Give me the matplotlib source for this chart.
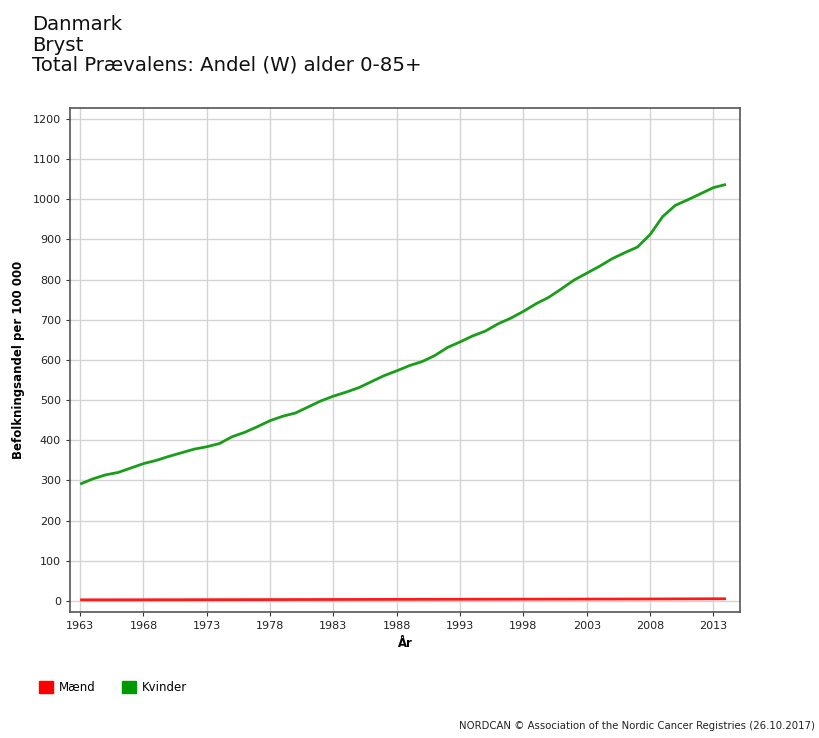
import matplotlib
matplotlib.use('Agg')
import matplotlib.pyplot as plt
from matplotlib.patches import Patch

# Brystkræft, total prævalens per 100 000, Danmark
years = list(range(1963, 2015))
kvinder = [291, 304, 314, 320, 331, 342, 350, 360, 369, 378,
           384, 392, 409, 420, 434, 449, 460, 468, 483, 498,
           510, 520, 531, 546, 561, 573, 586, 596, 611, 631,
           645, 660, 672, 690, 704, 721, 740, 756, 777, 799,
           816, 833, 852, 867, 881, 912, 957, 985, 999, 1014,
           1029, 1037]
maend = [3.0, 3.0, 3.0, 3.1, 3.1, 3.1, 3.2, 3.2, 3.2, 3.3,
         3.3, 3.4, 3.4, 3.5, 3.5, 3.6, 3.6, 3.7, 3.7, 3.8,
         3.8, 3.9, 3.9, 4.0, 4.0, 4.1, 4.1, 4.2, 4.2, 4.3,
         4.3, 4.4, 4.4, 4.5, 4.5, 4.6, 4.6, 4.7, 4.7, 4.8,
         4.8, 4.9, 4.9, 5.0, 5.0, 5.1, 5.2, 5.3, 5.4, 5.5,
         5.6, 5.7]
xticks = list(range(1963, 2014, 5))
yticks = list(range(0, 1201, 100))
serie_navne = ['Mænd', 'Kvinder']
serie_farver = ['#ff0000', '#009900']

plt.rcParams['font.family'] = ['DejaVu Sans']

fig = plt.figure(figsize=(8.19, 7.38), dpi=100)
ax = fig.add_axes([0.0855, 0.1707, 0.818, 0.683])

ax.plot(years, maend, color='#ff1a1a', lw=2.0, solid_capstyle='butt')
ax.plot(years, kvinder, color='#1a9e1a', lw=2.0, solid_capstyle='butt')

ax.set_xlim(1962.2, 2015.1)
ax.set_ylim(-27.4, 1227.3)
ax.set_xticks(xticks)
ax.set_yticks(yticks)
ax.tick_params(labelsize=8, length=3, color='#333333', labelcolor='#222222')
ax.grid(True, color='#d4d4d4', lw=1.0)
ax.set_axisbelow(True)
for sp in ax.spines.values():
    sp.set_color('#555555')
    sp.set_linewidth(1.2)

ax.set_xlabel('År', fontsize=8.5, fontweight='bold', labelpad=4)
ax.set_ylabel('Befolkningsandel per 100 000', fontsize=8.5, fontweight='bold', labelpad=6)

# titel i tre linjer
fig.text(0.039, 0.979, 'Danmark\nBryst\nTotal Prævalens: Andel (W) alder 0-85+',
         fontsize=14.2, va='top', ha='left', linespacing=1.08, color='#111111')

handles = [Patch(facecolor=c, edgecolor=c) for c in serie_farver]
fig.legend(handles, serie_navne, loc='center left', bbox_to_anchor=(0.035, 0.068),
           ncol=2, frameon=False, handlelength=1.2, handleheight=1.2,
           handletextpad=0.5, columnspacing=2.2,
           prop={'family': ['Liberation Sans Narrow', 'DejaVu Sans'], 'size': 8.5})

fig.text(0.995, 0.01, 'NORDCAN © Association of the Nordic Cancer Registries (26.10.2017)',
         ha='right', va='bottom', fontsize=7.3, color='#222222',
         family=['Liberation Sans Narrow', 'DejaVu Sans'])

fig.savefig('out.png', dpi=100)
